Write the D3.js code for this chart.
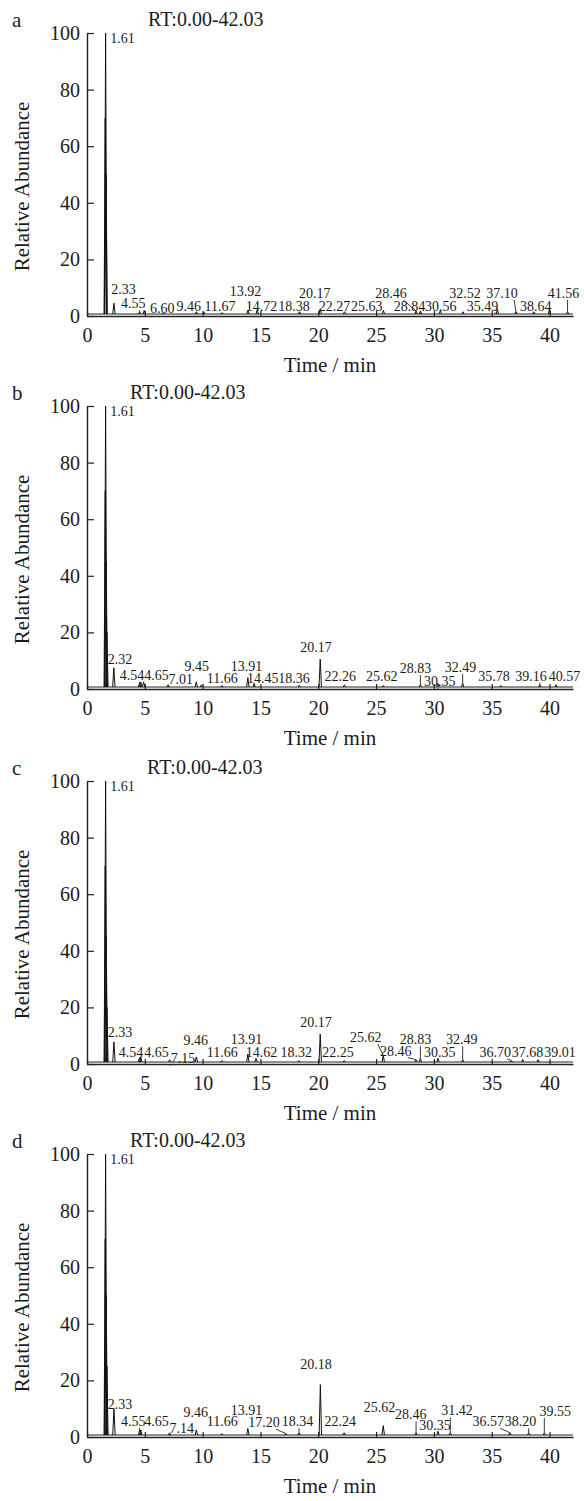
<!DOCTYPE html>
<html>
<head>
<meta charset="utf-8">
<script src="https://cdn.jsdelivr.net/npm/d3@7"></script>
<style>
  body { margin: 0; background: #fff; }
  text { font-family: "Liberation Serif", "Times New Roman", serif; fill: #1c1c1c; }
</style>
</head>
<body>
<div class="chart"></div>
<script>
// panel letters, header text, axis ticks
var panelNames = ["a", "b", "c", "d"];
var rtRange = "RT:0.00-42.03";
var xTicks = [0, 5, 10, 15, 20, 25, 30, 35, 40];
var yTicks = [0, 20, 40, 60, 80, 100];
var xTitle = "Time / min";
var yTitle = "Relative Abundance";
var rtMax = 42.03;
var baseLevel = 0.7;

// peaks: [retention time, relative abundance]
var peaksA = [[1.58, 70], [1.61, 100], [1.65, 50], [2.33, 4.5], [4.55, 1.5], [4.95, 2], [6.60, 1.2],
  [9.46, 1.5], [10.1, 1.5], [11.67, 1.2], [13.92, 2], [14.72, 2.2], [18.38, 1.5], [20.17, 2.5],
  [22.27, 1.5], [25.63, 2], [28.46, 1.8], [28.84, 1.8], [30.56, 2], [32.52, 1.5], [35.49, 2.5],
  [37.10, 1.5], [38.64, 1.5], [40.0, 2.5], [41.56, 1.5]];
var peaksB = [[1.58, 70], [1.61, 100], [1.66, 45], [1.72, 20], [2.32, 7.5], [4.54, 2], [4.65, 2.5],
  [4.9, 2.5], [7.01, 1.5], [9.45, 2.5], [9.9, 1.5], [11.66, 1.2], [13.91, 4], [14.45, 2],
  [18.36, 1.2], [20.17, 10.6], [22.26, 1.5], [25.62, 1.2], [28.83, 1.5], [30.35, 2], [32.49, 2],
  [35.78, 1.2], [39.16, 1.5], [40.57, 1.5]];
var peaksC = [[1.58, 70], [1.61, 100], [1.66, 45], [1.72, 20], [2.33, 7.8], [4.54, 2.2], [4.65, 2.5],
  [7.15, 1.5], [9.46, 2.5], [11.66, 1.2], [13.91, 3.5], [14.62, 2], [18.32, 1.2], [20.17, 10.6],
  [22.25, 1.2], [25.62, 3], [28.46, 1.5], [28.83, 2], [30.35, 2], [32.49, 1.5], [36.70, 1.2],
  [37.68, 1.5], [39.01, 1.5]];
var peaksD = [[1.58, 70], [1.61, 100], [1.66, 50], [1.72, 25], [2.33, 10], [4.55, 2.5], [4.65, 2.5],
  [7.14, 1.5], [9.46, 2.5], [11.66, 1.2], [13.91, 3], [17.20, 1.2], [18.34, 1.5], [20.18, 18.5],
  [22.24, 1.5], [25.62, 4], [28.46, 1.5], [30.35, 2], [31.42, 1.5], [36.57, 1.5], [38.20, 1.5],
  [39.55, 1.5]];

// peak labels: [text, label rt, label level, leader line]
var labelsA = [["1.61", 3.07, 96.5, 0], ["2.33", 3.16, 7.8, 0], ["4.55", 4.0, 2.8, 1], ["6.60", 6.5, 1.2, 0],
  ["9.46", 8.8, 1.8, 0], ["11.67", 11.5, 1.8, 0], ["13.92", 13.7, 7.1, 0], ["14.72", 15.1, 1.8, 1],
  ["18.38", 17.9, 1.8, 1], ["20.17", 19.7, 6.4, 0], ["22.27", 21.4, 1.8, 0], ["25.63", 24.2, 1.8, 0],
  ["28.46", 26.3, 6.4, 1], ["28.84", 27.9, 1.8, 1], ["30.56", 30.6, 1.8, 0], ["32.52", 32.7, 6.4, 0],
  ["35.49", 34.2, 1.8, 1], ["37.10", 35.9, 6.4, 1], ["38.64", 38.8, 1.8, 0], ["41.56", 41.2, 6.4, 1]];
var labelsB = [["1.61", 3.07, 96.5, 0], ["2.32", 2.85, 8.9, 0], ["4.54", 3.9, 3.2, 1], ["4.65", 6.0, 3.2, 0],
  ["7.01", 8.1, 1.8, 1], ["9.45", 9.5, 6.4, 0], ["11.66", 11.7, 2.1, 0], ["13.91", 13.8, 6.4, 0],
  ["14.45", 15.2, 2.1, 1], ["18.36", 17.9, 2.1, 1], ["20.17", 19.8, 13, 0], ["22.26", 21.9, 2.8, 0],
  ["25.62", 25.5, 2.8, 0], ["28.83", 28.4, 5.6, 1], ["30.35", 30.5, 1.0, 1], ["32.49", 32.3, 6.0, 1],
  ["35.78", 35.2, 2.8, 0], ["39.16", 38.4, 2.8, 1], ["40.57", 41.3, 2.8, 0]];
var labelsC = [["1.61", 3.07, 96.5, 0], ["2.33", 2.85, 9.5, 0], ["4.54", 3.8, 2.5, 1], ["4.65", 6.0, 2.5, 0],
  ["7.15", 8.3, 0.5, 1], ["9.46", 9.4, 6.7, 0], ["11.66", 11.7, 2.5, 0], ["13.91", 13.8, 7, 0],
  ["14.62", 15.1, 2.5, 1], ["18.32", 18.1, 2.5, 0], ["20.17", 19.8, 13, 0], ["22.25", 21.7, 2.5, 0],
  ["25.62", 24.1, 7.8, 1], ["28.46", 26.7, 3, 1], ["28.83", 28.4, 7, 1], ["30.35", 30.5, 2.5, 1],
  ["32.49", 32.4, 7, 1], ["36.70", 35.3, 2.5, 1], ["37.68", 38.1, 2.5, 1], ["39.01", 40.9, 2.5, 0]];
var labelsD = [["1.61", 3.07, 96.5, 0], ["2.33", 2.85, 10, 0], ["4.55", 4.0, 4, 1], ["4.65", 6.0, 4, 0],
  ["7.14", 8.2, 1.5, 1], ["9.46", 9.4, 7.2, 0], ["11.66", 11.7, 3.8, 0], ["13.91", 13.8, 7.6, 0],
  ["17.20", 15.3, 3.5, 1], ["18.34", 18.2, 3.8, 1], ["20.18", 19.8, 24, 0], ["22.24", 21.9, 3.8, 0],
  ["25.62", 25.3, 9, 0], ["28.46", 28.0, 6.2, 1], ["30.35", 30.1, 2.6, 1], ["31.42", 32.0, 7.6, 1],
  ["36.57", 34.7, 3.8, 1], ["38.20", 37.5, 3.8, 1], ["39.55", 40.5, 7.4, 1]];

var panelPeaks = [peaksA, peaksB, peaksC, peaksD];
var panelLabels = [labelsA, labelsB, labelsC, labelsD];

// layout
var svgWidth = 584;
var svgHeight = 1501;
var plotLeft = 87;
var plotRight = 573;
var plotHeight = 283;
var panelTop = [33, 406, 781, 1154];
var rtTextX = [148, 130, 147, 130];

var svg = d3.select(".chart")
  .append("svg")
  .attr("width", svgWidth)
  .attr("height", svgHeight);

svg.append("rect")
  .attr("width", svgWidth)
  .attr("height", svgHeight)
  .attr("fill", "#fff");

var xScale = d3.scaleLinear()
  .domain([0, rtMax])
  .range([plotLeft, plotRight]);

var yScale = d3.scaleLinear()
  .domain([0, 100])
  .range([plotHeight, 0]);

panelNames.forEach(function(name, i) {
  var g = svg.append("g")
    .attr("transform", `translate(0, ${panelTop[i]})`);
  var peaks = panelPeaks[i];

  // axes
  var xAxis = g.append("g")
    .attr("transform", `translate(0, ${plotHeight})`)
    .call(d3.axisBottom(xScale).tickValues(xTicks).tickSizeInner(-5).tickSizeOuter(0).tickPadding(12));
  var yAxis = g.append("g")
    .attr("transform", `translate(${plotLeft}, 0)`)
    .call(d3.axisLeft(yScale).tickValues(yTicks).tickSizeInner(-7).tickSizeOuter(0).tickPadding(7));
  [xAxis, yAxis].forEach(function(ax) {
    ax.attr("font-family", null).attr("font-size", 20);
    ax.select(".domain").attr("stroke", "#222").attr("stroke-width", 1.4);
    ax.selectAll(".tick line").attr("stroke", "#222").attr("stroke-width", 1.2);
    ax.selectAll(".tick text").attr("fill", "#1c1c1c");
  });

  // baseline of the trace
  var line = d3.line().x(d => xScale(d[0])).y(d => yScale(d[1]));
  g.append("path")
    .attr("d", line([[0, baseLevel], [rtMax, baseLevel]]))
    .attr("stroke", "#222")
    .attr("stroke-width", 1)
    .attr("fill", "none");

  // peaks
  g.selectAll(".peak")
    .data(peaks)
    .enter()
    .append("path")
    .attr("class", "peak")
    .attr("d", function(d) {
      var x = xScale(d[0]);
      return `M${x - 1.2},${yScale(baseLevel)} L${x},${yScale(d[1])} L${x + 1.2},${yScale(baseLevel)}`;
    })
    .attr("stroke", "#111")
    .attr("stroke-width", 1)
    .attr("fill", "none");

  // peak labels
  var labels = panelLabels[i];
  labels.forEach(function(lb) {
    var lx = xScale(lb[1]);
    var ly = yScale(lb[2]);
    g.append("text")
      .attr("x", lx)
      .attr("y", ly)
      .attr("text-anchor", "middle")
      .attr("font-size", 14)
      .text(lb[0]);
    if (lb[3]) {
      var rt = +lb[0];
      var pk = peaks.reduce((a, b) => Math.abs(b[0] - rt) < Math.abs(a[0] - rt) ? b : a);
      var px = xScale(pk[0]);
      var sx = px < lx ? Math.max(px, lx - 12) : Math.min(px, lx + 12);
      g.append("line")
        .attr("x1", sx)
        .attr("y1", ly + 2)
        .attr("x2", px)
        .attr("y2", Math.max(ly + 3, yScale(pk[1])))
        .attr("stroke", "#222")
        .attr("stroke-width", 0.9);
    }
  });

  // panel letter and header
  g.append("text")
    .attr("x", 12)
    .attr("y", -6)
    .attr("font-size", 21)
    .text(name);
  g.append("text")
    .attr("x", rtTextX[i])
    .attr("y", -7)
    .attr("font-size", 20)
    .text(rtRange);

  // axis titles
  g.append("text")
    .attr("transform", `translate(29, ${plotHeight / 2 + 12}) rotate(-90)`)
    .attr("text-anchor", "middle")
    .attr("font-size", 21)
    .text(yTitle);
  g.append("text")
    .attr("x", 330)
    .attr("y", plotHeight + 56)
    .attr("text-anchor", "middle")
    .attr("font-size", 21)
    .text(xTitle);
});
</script>
</body>
</html>
